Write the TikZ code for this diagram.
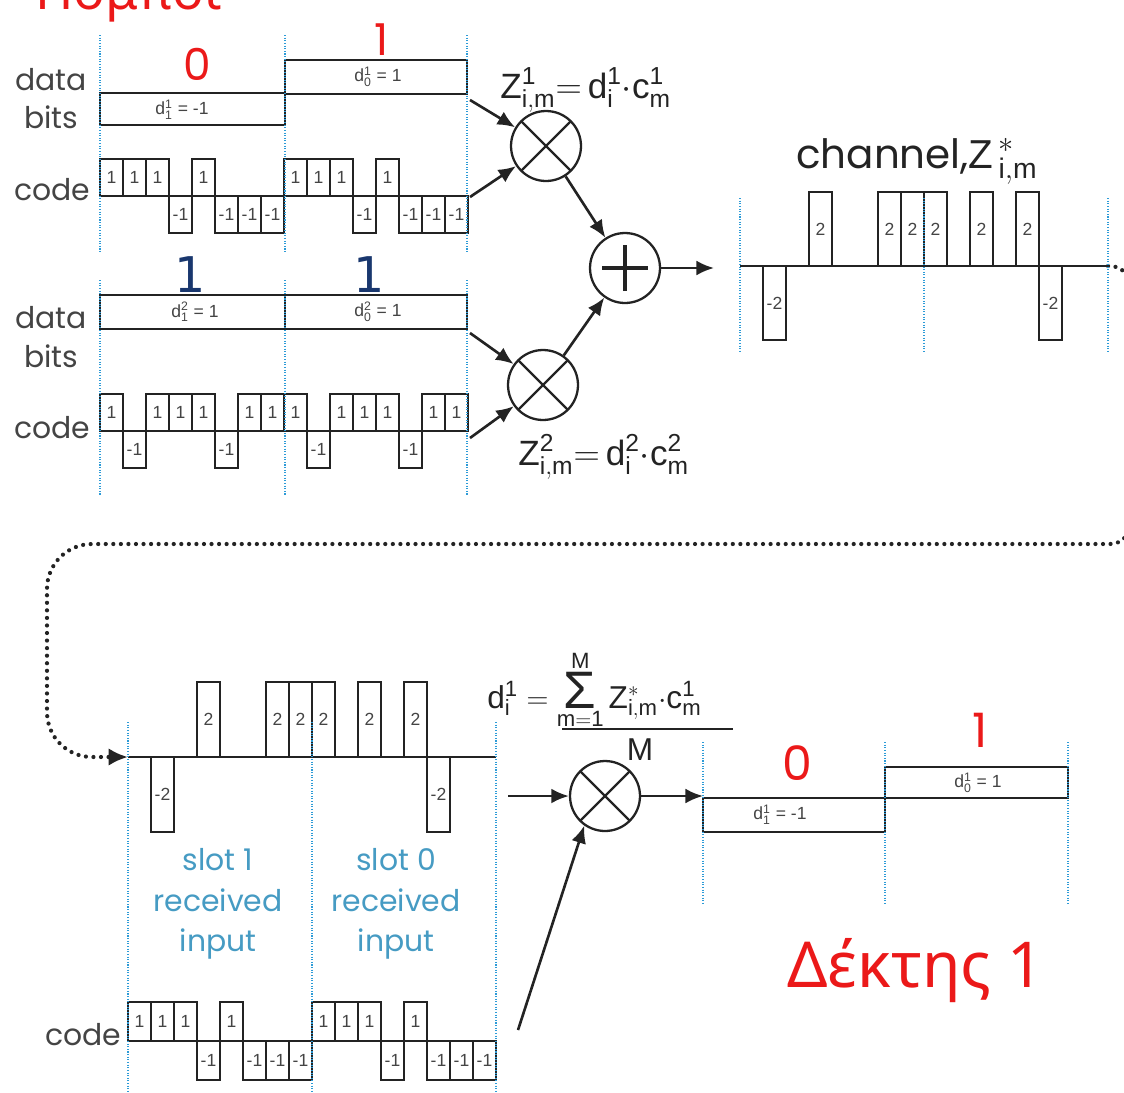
\documentclass[tikz,border=0pt]{standalone}
\usepackage{fontspec}
\setmainfont{Liberation Sans}
\newfontfamily\geofont{Poppins}
\newfontfamily\grfont{Noto Sans}
\newfontfamily\djfont{DejaVu Sans}
\usetikzlibrary{arrows.meta,positioning}

\definecolor{guia}{RGB}{45,155,215}
\definecolor{slotazul}{RGB}{70,155,195}
\definecolor{navy}{RGB}{25,55,110}
\definecolor{rojo}{RGB}{235,25,25}
\definecolor{tinta}{RGB}{35,35,35}

\tikzset{
  guide/.style={guia, line width=1.3pt, dash pattern=on 0.6pt off 0.9pt},
  databox/.style={draw=tinta, line width=1.3pt},
  chipbox/.style={draw=tinta, line width=1.1pt},
  chiptxt/.style={font=\fontsize{10}{11}\selectfont, text=tinta!85, inner sep=0pt},
  boxtxt/.style={font=\fontsize{10}{11}\selectfont, text=tinta!85, inner sep=0pt},
  rowlabel/.style={font=\geofont\fontsize{17}{20}\selectfont, text=tinta!85, inner sep=0pt, anchor=base},
  formula/.style={font=\fontsize{20}{22}\selectfont, text=tinta, inner sep=0pt, anchor=base west},
  bitred/.style={font=\geofont\fontsize{25}{28}\selectfont, text=rojo, inner sep=0pt, anchor=base},
  bitblue/.style={font=\djfont\fontsize{28}{30}\selectfont, text=navy, inner sep=0pt, anchor=base},
  slottxt/.style={font=\geofont\fontsize{17}{23}\selectfont, text=slotazul, align=center, inner sep=0pt},
  mixer/.style={circle, draw=tinta, line width=1.3pt, minimum size=1.4cm, inner sep=0pt,
    path picture={\draw[line width=1.3pt] (path picture bounding box.north west) -- (path picture bounding box.south east)
      (path picture bounding box.north east) -- (path picture bounding box.south west);}},
  adder/.style={circle, draw=tinta, line width=1.3pt, minimum size=1.4cm, inner sep=0pt,
    path picture={\draw[line width=2.4pt] ([xshift=-0.46cm]path picture bounding box.center) -- ([xshift=0.46cm]path picture bounding box.center)
      ([yshift=-0.46cm]path picture bounding box.center) -- ([yshift=0.46cm]path picture bounding box.center);}},
  flow/.style={draw=tinta, line width=1.5pt, -{Latex[length=10pt,width=8.5pt]}},
  loopback/.style={draw=tinta, line width=2.4pt, dash pattern=on 0pt off 4.3pt, line cap=round, -{Latex[length=11pt,width=10pt]}},
}

% fila de chips: nombre, x0, y0, altura, valores
\newcommand{\chiprow}[5]{%
  \foreach \v [count=\k] in {#5}{%
    \ifnum\v=0 \else
      \draw[chipbox] ({#2+(\k-1)*23},#3) rectangle ({#2+\k*23},{#3-(\v)*#4});
      \node[chiptxt] (#1-\k) at ({#2+(\k-0.5)*23},{#3-(\v)*#4/2}) {\v};
    \fi}}
% suma grande
\newcommand{\bigsum}{\mathop{\hbox{\fontsize{30}{30}\selectfont Σ}}\limits}

\begin{document}
\begin{tikzpicture}[x=0.02cm,y=-0.02cm]
\useasboundingbox (0,0) rectangle (1124,1092);
% Titulo
\node[font=\grfont\fontsize{30}{32}\selectfont, text=rojo, inner sep=0pt, anchor=base west] (tx) at (35,10) {Πομποί};

% Usuario 1
\node[rowlabel] (data1) at (51,90) {data};
\node[rowlabel] (bits1) at (51,128) {bits};
\node[rowlabel] (code1) at (52,200) {code};
\draw[databox] (100,93) rectangle (285,125);
\draw[databox] (285,60) rectangle (467,94);
\node[boxtxt] (b11) at (182,110) {$\mathrm{d^{1}_{1}}$ = -1};
\node[boxtxt] (b10) at (378,77) {$\mathrm{d^{1}_{0}}$ = 1};
\node[bitred] (r11) at (197,80) {0};
\node[bitred] (r10) at (382,55) {1};
\chiprow{ca}{100}{196}{37}{1,1,1,-1,1,-1,-1,-1,1,1,1,-1,1,-1,-1,-1}

% Usuario 2
\node[rowlabel] (data2) at (51,328) {data};
\node[rowlabel] (bits2) at (51,367) {bits};
\node[rowlabel] (code2) at (52,438) {code};
\draw[databox] (100,295) rectangle (285,329);
\draw[databox] (285,295) rectangle (467,329);
\node[boxtxt] (b21) at (195,312) {$\mathrm{d^{2}_{1}}$ = 1};
\node[boxtxt] (b20) at (378,312) {$\mathrm{d^{2}_{0}}$ = 1};
\node[bitblue] (u21) at (190,292) {1};
\node[bitblue] (u20) at (369,292) {1};
\chiprow{cb}{100}{431}{37}{1,-1,1,1,1,-1,1,1,1,-1,1,1,1,-1,1,1}

% Mezcladores
\node[mixer] (mulA) at (546,146) {};
\node[adder] (sumN) at (625,268) {};
\node[mixer] (mulB) at (543,385) {};
\coordinate (inA1) at (470,100);
\coordinate (inA2) at (470,197);
\coordinate (inB1) at (470,333);
\coordinate (inB2) at (470,438);
\coordinate (chIn) at (714,268);
\draw[flow] (inA1) -- (mulA);
\draw[flow] (inA2) -- (mulA);
\draw[flow] (inB1) -- (mulB);
\draw[flow] (inB2) -- (mulB);
\draw[flow] (mulA) -- (sumN);
\draw[flow] (mulB) -- (sumN);
\draw[flow] (sumN) -- (chIn);
\node[formula] (zf1) at (500,98) {$\mathrm{Z^{1}_{i,m}{=}\,d^{1}_{i}{\cdot}c^{1}_{m}}$};
\node[formula] (zf2) at (518,465) {$\mathrm{Z^{2}_{i,m}{=}\,d^{2}_{i}{\cdot}c^{2}_{m}}$};

% Canal
\node[formula, font=\geofont\fontsize{23}{25}\selectfont] (chlbl) at (796,168) {channel,$\mathrm{Z^{\,*}_{\,i,m}}$};
\draw[chipbox] (740,266) -- (1108,266);
\chiprow{ch}{740}{266}{37}{0,-2,0,2,0,0,2,2,2,0,2,0,2,-2,0,0}

% Retorno
\coordinate (chEnd) at (1108,266);
\coordinate (rxIn) at (128,757);
\draw[loopback] (chEnd) [rounded corners=0.4cm] -- (1130,266) -- (1130,544) [rounded corners=0.9cm] -- (47,544) -- (47,757) -- (rxIn);

% Receptor
\draw[chipbox] (rxIn) -- (496,757);
\chiprow{rx}{128}{757}{37.5}{0,-2,0,2,0,0,2,2,2,0,2,0,2,-2,0,0}
\node[slottxt] (slot1) at (218,904) {slot 1\\received\\input};
\node[slottxt] (slot0) at (396,904) {slot 0\\received\\input};
\node[rowlabel] (code3) at (83,1045) {code};
\chiprow{cr}{128}{1041}{39}{1,1,1,-1,1,-1,-1,-1,1,1,1,-1,1,-1,-1,-1}

\node[mixer] (mulR) at (605,796) {};
\coordinate (rxOut) at (508,796);
\coordinate (codeOut) at (518,1030);
\coordinate (decIn) at (703,796);
\draw[flow] (rxOut) -- (mulR);
\draw[flow] (mulR) -- (decIn);
\draw[flow] (codeOut) -- (mulR.235);
\node[formula, font=\fontsize{18}{20}\selectfont] (decf) at (487,708) {$\mathrm{d^{1}_{i}} = \bigsum_{\mathrm{m=1}}^{\mathrm{M}}\mathrm{Z^{*}_{i,m}{\cdot}c^{1}_{m}}$};
\draw[line width=1.3pt, draw=tinta] (562,729) -- (733,729);
\node[formula, anchor=base, font=\fontsize{18}{20}\selectfont] (den) at (640,760) {M};

% Salida
\draw[databox] (703,798) rectangle (885,832);
\draw[databox] (885,767) rectangle (1068,798);
\node[boxtxt] (o11) at (780,815) {$\mathrm{d^{1}_{1}}$ = -1};
\node[boxtxt] (o10) at (978,783) {$\mathrm{d^{1}_{0}}$ = 1};
\node[bitred, font=\geofont\fontsize{27}{30}\selectfont] (q11) at (797,780) {0};
\node[bitred, font=\geofont\fontsize{27}{30}\selectfont] (q10) at (980,747) {1};
\node[font=\grfont\fontsize{36}{40}\selectfont, text=rojo, inner sep=0pt, anchor=base west] (rx1) at (787,987) {Δέκτης 1};

% Guias
\foreach \x in {100,285,467} {\draw[guide] (\x,35) -- (\x,252); \draw[guide] (\x,280) -- (\x,496);}
\foreach \x in {740,924,1108} \draw[guide] (\x,198) -- (\x,353);
\foreach \x in {128,312,496} \draw[guide] (\x,722) -- (\x,1092);
\foreach \x in {703,885,1068} \draw[guide] (\x,742) -- (\x,903);
\end{tikzpicture}
\end{document}
